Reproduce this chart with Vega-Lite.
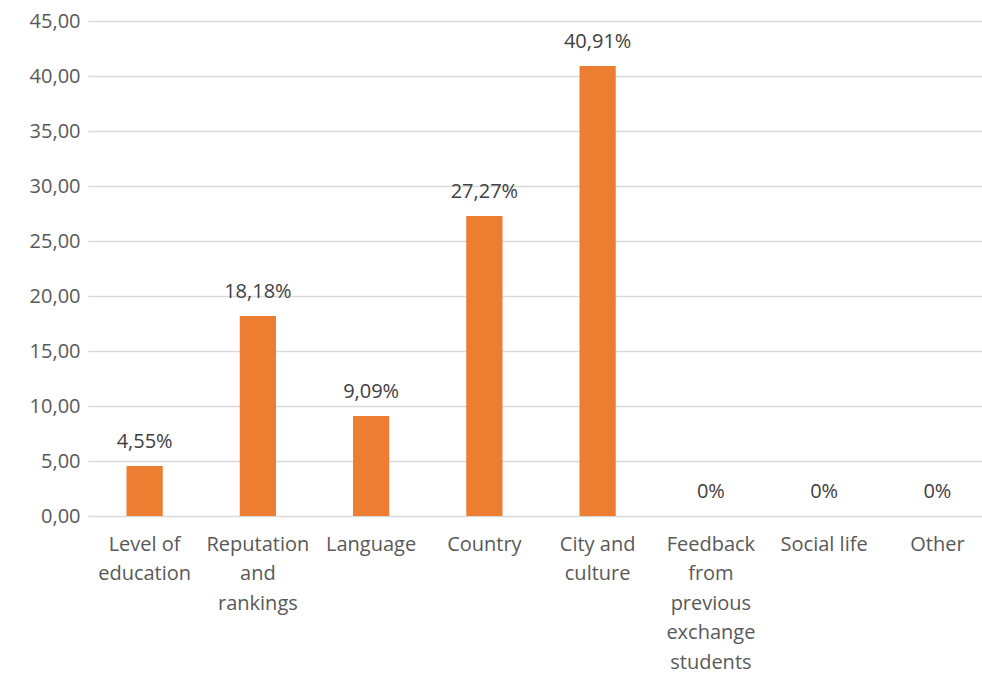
{
  "$schema": "https://vega.github.io/schema/vega-lite/v6.json",
  "width": 894,
  "height": 495,
  "autosize": {"type": "none"},
  "padding": {"left": 88, "top": 21, "right": 0, "bottom": 158},
  "background": "white",
  "config": {
    "view": {"stroke": null},
    "font": "Open Sans",
    "axis": {"labelFont": "Open Sans", "labelFontSize": 20, "labelColor": "#595959"}
  },
  "data": {
    "values": [
      {"cat": "Level of|education", "value": 4.55, "label": "4,55%"},
      {"cat": "Reputation|and|rankings", "value": 18.18, "label": "18,18%"},
      {"cat": "Language", "value": 9.09, "label": "9,09%"},
      {"cat": "Country", "value": 27.27, "label": "27,27%"},
      {"cat": "City and|culture", "value": 40.91, "label": "40,91%"},
      {"cat": "Feedback|from|previous|exchange|students", "value": 0, "label": "0%"},
      {"cat": "Social life", "value": 0, "label": "0%"},
      {"cat": "Other", "value": 0, "label": "0%"}
    ]
  },
  "encoding": {
    "x": {
      "field": "cat", "type": "nominal", "sort": null, "title": null,
      "scale": {"paddingInner": 0.68, "paddingOuter": 0.34, "range": [0, 906]},
      "axis": {"labelAngle": 0, "domain": false, "ticks": false, "labelPadding": 18,
               "labelExpr": "split(datum.label, '|')", "labelLineHeight": 29.5, "labelLimit": 0}
    },
    "y": {
      "field": "value", "type": "quantitative", "title": null,
      "scale": {"domain": [0, 45], "nice": false},
      "axis": {"values": [0, 5, 10, 15, 20, 25, 30, 35, 40, 45], "domain": false, "ticks": false,
               "labelPadding": 8, "gridColor": "#D9D9D9", "gridWidth": 1.3,
               "labelExpr": "replace(format(datum.value, '.2f'), '.', ',')"}
    }
  },
  "layer": [
    {"mark": {"type": "bar", "color": "#ED7D31"}},
    {"mark": {"type": "text", "baseline": "alphabetic", "dy": -18, "fontSize": 20, "color": "#404040", "font": "Open Sans"},
     "encoding": {"text": {"field": "label"}}}
  ]
}
